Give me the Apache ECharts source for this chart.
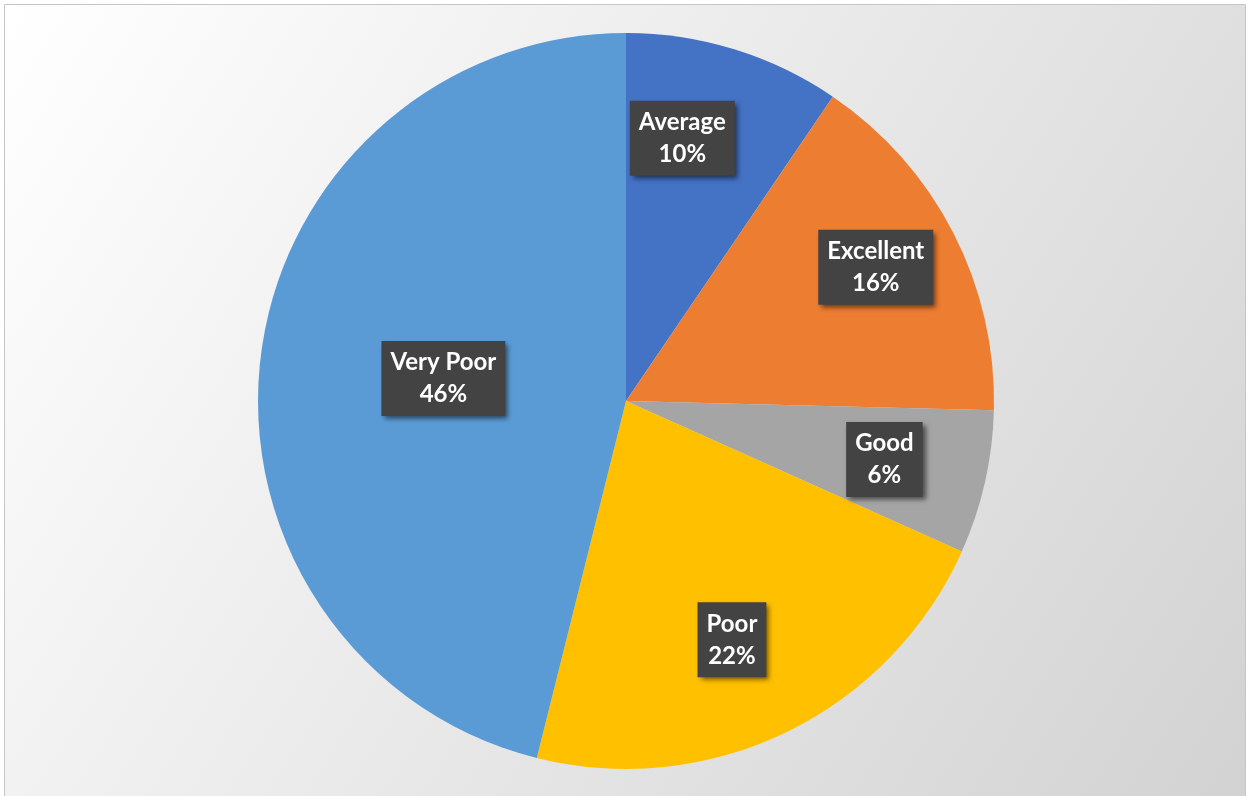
<!DOCTYPE html>
<html>
<head>
<meta charset="utf-8">
<script src="https://cdn.jsdelivr.net/npm/echarts@6/dist/echarts.min.js"></script>
<style>
html,body{margin:0;padding:0;background:#fff;}
#chart{width:1252px;height:796px;}
</style>
</head>
<body>
<div id="chart"></div>
<script>
// Data
const categories = ['Average', 'Excellent', 'Good', 'Poor', 'Very Poor'];
const values = [9.5, 15.9, 6.3, 22.2, 46.1];
const colors = ['#4472C4', '#ED7D31', '#A5A5A5', '#FFC000', '#5B9BD5'];
// label placement (fraction of radius, angular shift in degrees)
const labelRadiusRatio = [0.73, 0.77, 0.72, 0.71, 0.50];
const labelAngleShift = [-5, -1, 0, 2, 0];

const W = 1252, H = 796;
const CX = 626, CY = 401, R = 368;

const chart = echarts.init(document.getElementById('chart'), null, {renderer: 'canvas'});
chart.setOption({
  animation: false,
  graphic: [{
    type: 'rect',
    z: -10,
    silent: true,
    shape: {x: 4.5, y: 4.5, width: 1241, height: 800},
    style: {
      fill: new echarts.graphic.LinearGradient(0, 0, 1, 1, [
        {offset: 0, color: '#ffffff'},
        {offset: 1, color: '#d2d2d2'}
      ]),
      stroke: '#c6c6c6',
      lineWidth: 1
    }
  }],
  series: [{
    type: 'pie',
    center: [CX, CY],
    radius: [0, R],
    startAngle: 90,
    clockwise: true,
    percentPrecision: 0,
    avoidLabelOverlap: false,
    data: categories.map((n, i) => ({name: n, value: values[i], itemStyle: {color: colors[i]}})),
    itemStyle: {borderWidth: 0},
    emphasis: {disabled: true},
    label: {
      show: true,
      position: 'inside',
      formatter: '{b}\n{d}%',
      color: '#ffffff',
      fontFamily: 'Lato',
      fontWeight: 'bold',
      fontSize: 24,
      lineHeight: 32,
      align: 'center',
      backgroundColor: '#434343',
      padding: [6, 9, 5, 9],
      shadowColor: 'rgba(0,0,0,0.55)',
      shadowBlur: 5,
      shadowOffsetX: 3,
      shadowOffsetY: 3
    },
    labelLine: {show: false},
    labelLayout: function (p) {
      const i = p.dataIndex;
      const lx = p.labelRect.x + p.labelRect.width / 2 - CX;
      const ly = p.labelRect.y + p.labelRect.height / 2 - CY;
      let ang = Math.atan2(ly, lx) + labelAngleShift[i] * Math.PI / 180;
      const d = R * labelRadiusRatio[i];
      return {x: CX + d * Math.cos(ang), y: CY + d * Math.sin(ang), align: 'center', verticalAlign: 'middle'};
    }
  }]
});
</script>
</body>
</html>
